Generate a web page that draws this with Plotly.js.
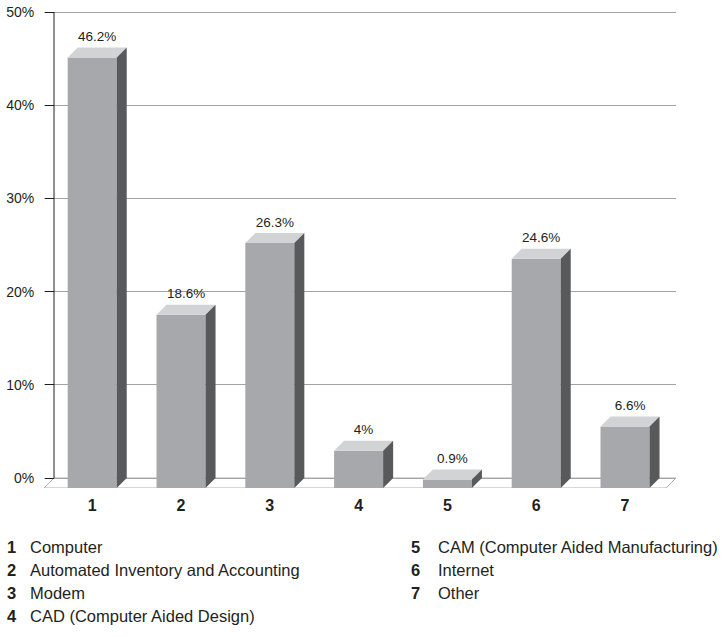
<!DOCTYPE html>
<html>
<head>
<meta charset="utf-8">
<script src="https://cdn.plot.ly/plotly-3.0.1.min.js"></script>
<style>
  html, body { margin: 0; padding: 0; background: #ffffff; }
  #chart { width: 726px; height: 637px; }
</style>
</head>
<body>
<div id="chart"></div>
<script>
// Survey results: share of respondents per technology item
const categories = [1, 2, 3, 4, 5, 6, 7];
const tickLabels = ['1', '2', '3', '4', '5', '6', '7'];
const values = [46.2, 18.6, 26.3, 4, 0.9, 24.6, 6.6];
const valueLabels = ['46.2%', '18.6%', '26.3%', '4%', '0.9%', '24.6%', '6.6%'];
const pctTicks = [0, 10, 20, 30, 40, 50];
const pctTickLabels = ['0%', '10%', '20%', '30%', '40%', '50%'];
const legendNames = [
  'Computer',
  'Automated Inventory and Accounting',
  'Modem',
  'CAD (Computer Aided Design)',
  'CAM (Computer Aided Manufacturing)',
  'Internet',
  'Other'
];

// ---- geometry of the pseudo-3D frame ----
const W = 726, H = 637;
const M = { l: 44, r: 50, t: 10, b: 149 };
const plotW = W - M.l - M.r;          // 632
const plotH = H - M.t - M.b;          // 478
const pxPerCat = 88.8;                // horizontal pixels per category
const pxPerPct = 9.32;                // vertical pixels per percentage point
const depthPx = 10;                   // depth offset of the back wall (right and up)
const barW = 0.552;                   // front face width in category units
const labelGapPx = 3;                 // extra space between a bar top and its label

const xStart = 0.457;
const xEnd = xStart + plotW / pxPerCat;
const dx = depthPx / pxPerCat;        // depth in x data units
const dy = depthPx / pxPerPct;        // depth in y data units
const yTop = plotH / pxPerPct - dy;   // top of the value axis

const FONT = '"Liberation Sans", Arial, sans-serif';
const INK = '#231f20';

// Front faces start one depth step below the back-wall zero line.
const frontBase = -dy;
const wallX = xStart + dx;            // x of the back-wall axis line

// Top and side faces of each bar, built from the values
const topX = [], topY = [], sideX = [], sideY = [];
categories.forEach((c, i) => {
  const v = values[i] + frontBase;    // front top edge
  const x0 = c - barW / 2, x1 = c + barW / 2;
  topX.push(x0, x1, x1 + dx, x0 + dx, x0, null);
  topY.push(v, v, v + dy, v + dy, v, null);
  sideX.push(x1, x1 + dx, x1 + dx, x1, x1, null);
  sideY.push(frontBase, frontBase + dy, v + dy, v, frontBase, null);
});

const traces = [
  {
    type: 'bar', x: categories, y: values, base: frontBase, width: barW,
    marker: { color: '#a7a8ab', line: { width: 0 } },
    hoverinfo: 'skip', showlegend: false
  },
  {
    type: 'scatter', mode: 'lines', x: topX, y: topY,
    fill: 'toself', fillcolor: '#d2d3d5', line: { width: 0, color: '#d2d3d5' },
    hoverinfo: 'skip', showlegend: false
  },
  {
    type: 'scatter', mode: 'lines', x: sideX, y: sideY,
    fill: 'toself', fillcolor: '#58595b', line: { width: 0, color: '#58595b' },
    hoverinfo: 'skip', showlegend: false
  },
  {
    type: 'scatter', mode: 'text',
    x: categories.map(c => c + dx / 2),
    y: values.map(v => v + labelGapPx / pxPerPct),
    text: valueLabels, textposition: 'top center', cliponaxis: false,
    textfont: { family: FONT, size: 13.5, color: INK },
    hoverinfo: 'skip', showlegend: false
  }
];

// Legend rows under the chart
const annotations = [];
const colX = [[5, 28], [409, 436]];
const rowY = [547, 570, 593, 616];
legendNames.forEach((name, i) => {
  const col = i < 4 ? 0 : 1;
  const row = i < 4 ? i : i - 4;
  const py = rowY[row];
  const yPaper = (H - M.b - py) / plotH;
  annotations.push({
    xref: 'paper', yref: 'paper', x: (colX[col][0] - M.l) / plotW, y: yPaper,
    xanchor: 'left', yanchor: 'middle', showarrow: false,
    text: '<b>' + tickLabels[i] + '</b>',
    font: { family: FONT, size: 16.5, color: INK }
  });
  annotations.push({
    xref: 'paper', yref: 'paper', x: (colX[col][1] - M.l) / plotW, y: yPaper,
    xanchor: 'left', yanchor: 'middle', showarrow: false,
    text: name,
    font: { family: FONT, size: 16.5, color: INK }
  });
});

const layout = {
  width: W, height: H,
  margin: M,
  paper_bgcolor: '#ffffff', plot_bgcolor: '#ffffff',
  showlegend: false,
  xaxis: {
    range: [xStart, xEnd], tickvals: categories, ticktext: tickLabels,
    showgrid: false, zeroline: false, showline: false, ticks: '',
    ticklabelstandoff: 6,
    tickfont: { family: FONT, size: 16, color: INK, weight: 'bold' },
    fixedrange: true
  },
  // back wall: percentage ticks and gridlines
  yaxis: {
    range: [frontBase, yTop], tickvals: pctTicks, ticktext: pctTickLabels,
    anchor: 'free', position: depthPx / plotW, side: 'left',
    showgrid: true, gridcolor: '#a3a3a3', gridwidth: 1,
    zeroline: false, showline: false,
    ticks: 'outside', ticklen: 9, tickcolor: INK, tickwidth: 1,
    ticklabelstandoff: 8,
    tickfont: { family: FONT, size: 14, color: INK },
    fixedrange: true
  },
  shapes: [
    {
      // floor of the chart
      type: 'path', xref: 'x', yref: 'y', layer: 'below',
      path: 'M' + xStart + ',' + frontBase + ' L' + (xEnd - dx) + ',' + frontBase +
            ' L' + xEnd + ',0 L' + (xStart + dx) + ',0 Z',
      line: { color: '#b0b0b0', width: 1 }, fillcolor: 'rgba(255,255,255,0)'
    },
    {
      // vertical axis line along the back wall
      type: 'line', xref: 'x', yref: 'y', layer: 'above',
      x0: wallX, x1: wallX, y0: pctTicks[0], y1: pctTicks[pctTicks.length - 1],
      line: { color: INK, width: 1 }
    }
  ],
  annotations: annotations
};

Plotly.newPlot('chart', traces, layout, { displayModeBar: false, staticPlot: true });
</script>
</body>
</html>
